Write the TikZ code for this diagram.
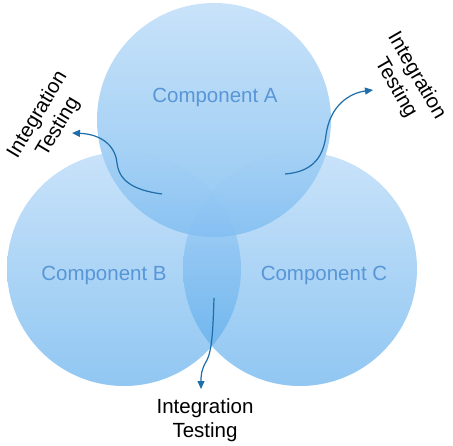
\documentclass[tikz,border=0pt]{standalone}
\usepackage{fontspec}
\setmainfont{Liberation Sans}
\usetikzlibrary{arrows.meta}
\definecolor{ctop}{RGB}{165,208,246}
\definecolor{cbot}{RGB}{72,162,234}
\definecolor{ctext}{RGB}{88,150,215}
\definecolor{arr}{RGB}{30,110,170}
\tikzset{
  comp/.style={circle, minimum size=234pt, inner sep=0pt, draw=none,
    top color=ctop, bottom color=cbot, fill opacity=0.6},
  complabel/.style={text=ctext, font=\fontsize{20.5}{24}\selectfont},
  itlabel/.style={align=center, text=black, font=\fontsize{20.5}{24}\selectfont, inner sep=0pt},
  conn/.style={draw=arr, line width=1.2pt, -{Triangle[length=8pt,width=7pt]}}
}
\begin{document}
\begin{tikzpicture}[x=1pt,y=-1pt]
\useasboundingbox (0,0) rectangle (453,445);
\fill[white] (0,0) rectangle (453,445);
\node[comp] (A) at (214,120) {};
\node[comp] (B) at (124,269) {};
\node[comp] (C) at (300,269) {};
\node[complabel] (la) at (215,97) {Component A};
\node[complabel] (lb) at (104,275) {Component B};
\node[complabel] (lc) at (324,275) {Component C};
\node[itlabel, rotate=59] (itl) at (48,121) {Integration\\Testing};
\node[itlabel, rotate=-60] (itr) at (406,82) {Integration\\Testing};
\node[itlabel] (itb) at (205,420) {Integration\\Testing};
\coordinate (sl) at (162,194);
\coordinate (tl) at (72,133);
\coordinate (sr) at (285,174);
\coordinate (tr) at (373,90);
\coordinate (sb) at (214,298);
\coordinate (tb) at (201,389);
\draw[conn] (sl) .. controls (132,190) and (119,180) .. (117,163) .. controls (115,143) and (98,134) .. (tl);
\draw[conn] (sr) .. controls (310,172) and (323,160) .. (326,135) .. controls (330,105) and (350,93) .. (tr);
\draw[conn] (sb) .. controls (213,330) and (212,350) .. (207,360) .. controls (201,370) and (201,376) .. (tb);
\end{tikzpicture}
\end{document}
